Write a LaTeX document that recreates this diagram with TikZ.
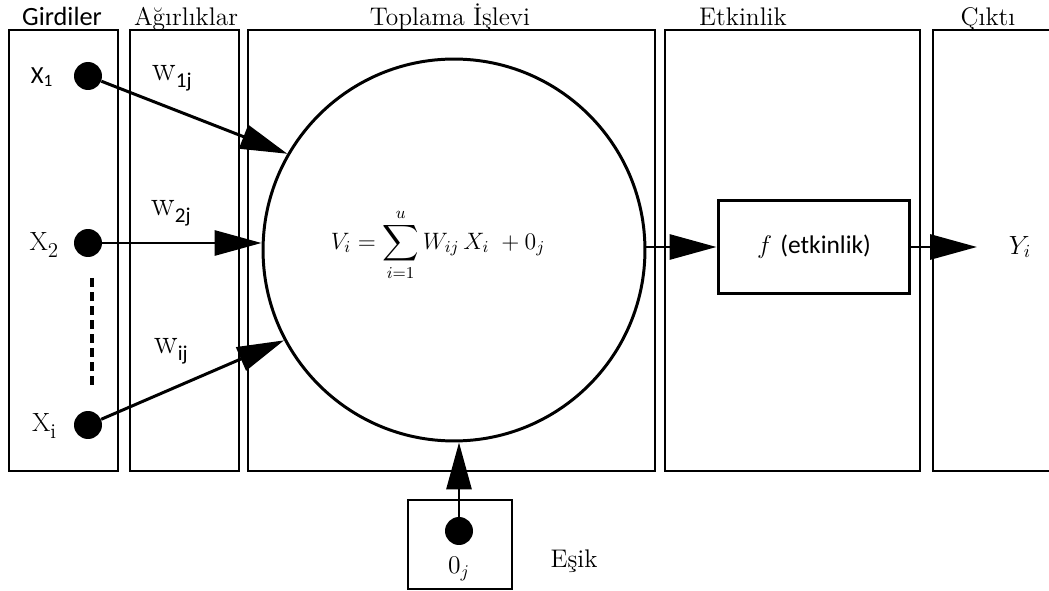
\RequirePackage{fix-cm}
\documentclass[tikz,border=0pt]{standalone}
\usepackage{fontspec}
\usepackage{amsmath}
\newfontfamily\calib{Carlito}
\usetikzlibrary{positioning,arrows.meta}

\begin{document}
\begin{tikzpicture}[
    x=0.02cm, y=-0.02cm,
    column/.style={
        rectangle, draw, line width=1.1pt,
        minimum height=8.82cm, inner sep=0pt
    },
    title/.style={
        anchor=base, inner sep=0pt,
        font=\fontsize{14.5}{16}\selectfont
    },
    stitle/.style={
        anchor=base, inner sep=0pt,
        font=\fontsize{15}{17}\selectfont\calib
    },
    dot/.style={circle, fill, inner sep=0pt, minimum size=0.56cm},
    inlabel/.style={font=\fontsize{15}{17}\selectfont},
    weight/.style={font=\fontsize{20}{22}\selectfont},
    conn/.style={line width=1.7pt, -{Triangle[length=0.94cm, width=0.5cm]}}
]
\useasboundingbox (0,0) rectangle (1049,591);

%% Column boxes (left to right)
\node[column, minimum width=2.18cm] (gir) at (63.5,250.5) {};
\node[column, minimum width=2.18cm] (agr) at (184.5,250.5) {};
\node[column, minimum width=8.14cm] (top) at (451.5,250.5) {};
\node[column, minimum width=5.1cm]  (etk) at (792.5,250.5) {};
\node[column, minimum width=2.6cm]  (cik) at (998,250.5) {};

%% Column titles
\node[stitle] (tgir) at (62,26)  {Girdiler};
\node[title]  (tagr) at (186,26) {Ağırlıklar};
\node[title]  (ttop) at (450,26) {Toplama İşlevi};
\node[title]  (tetk) at (743,26) {Etkinlik};
\node[title]  (tcik) at (988,26) {Çıktı};

%% Inputs
\node[dot] (x1) at (88,76)  {};
\node[dot] (x2) at (88,243) {};
\node[dot] (xi) at (88,425) {};
\node[inlabel, font=\fontsize{14}{16}\selectfont\calib] (lx1) at (42,77) {X\textsubscript{1}};
\node[inlabel] (lx2) at (44,245) {X\raisebox{-0.14cm}{\fontsize{12}{14}\selectfont 2}};
\node[inlabel] (lxi) at (44,426) {X\raisebox{-0.14cm}{\fontsize{12}{14}\selectfont i}};

\coordinate (dtop) at (92,278);
\coordinate (dbot) at (92,388);
\draw[line width=2pt, dash pattern=on 5pt off 3pt] (dtop) -- (dbot);

%% Weights
\node[weight] (w1) at (172,78)  {w\raisebox{-0.14cm}{\fontsize{12}{14}\selectfont\calib 1j}};
\node[weight] (w2) at (171,213) {w\raisebox{-0.14cm}{\fontsize{12}{14}\selectfont\calib 2j}};
\node[weight] (wi) at (171,351) {w\raisebox{-0.14cm}{\fontsize{12}{14}\selectfont\calib ij}};

%% Summing unit
\node[circle, draw, line width=1.7pt, minimum size=7.64cm, inner sep=0pt] (sum) at (454,250) {};
\node[font=\fontsize{13.5}{16}\selectfont, inner sep=0pt] (eq) at (438,245)
    {$\displaystyle V_i=\sum_{i=1}^{u}W_{ij}\,X_i\;+0_j$};

\draw[conn] (x1) -- (sum.150);
\draw[conn] (x2) -- (x2 -| sum.west);
\draw[conn] (xi) -- (sum.208);

%% Activation and output
\node[rectangle, draw, line width=1.7pt, minimum width=3.84cm, minimum height=1.86cm,
      font=\fontsize{14.5}{16}\selectfont] (act) at (814,247)
    {$f$ {\calib (etkinlik)}\hspace{0.7cm}};
\coordinate (yend) at (977,247);
\node[font=\fontsize{15}{17}\selectfont] (yout) at (1020,247) {$Y_i$};

\draw[conn] (sum.east |- act.west) -- (act.west);
\draw[conn] (act.east) -- (yend);

%% Threshold
\node[rectangle, draw, line width=1.1pt, minimum width=2.08cm, minimum height=1.78cm] (thbox) at (460,544.5) {};
\node[dot] (th) at (459,531) {};
\node[font=\fontsize{14.5}{16}\selectfont] (thl) at (459,569) {$0_j$};
\node[title] (esik) at (574,567) {Eşik};

\draw[conn] (th) -- (th |- sum.south);

\end{tikzpicture}
\end{document}
